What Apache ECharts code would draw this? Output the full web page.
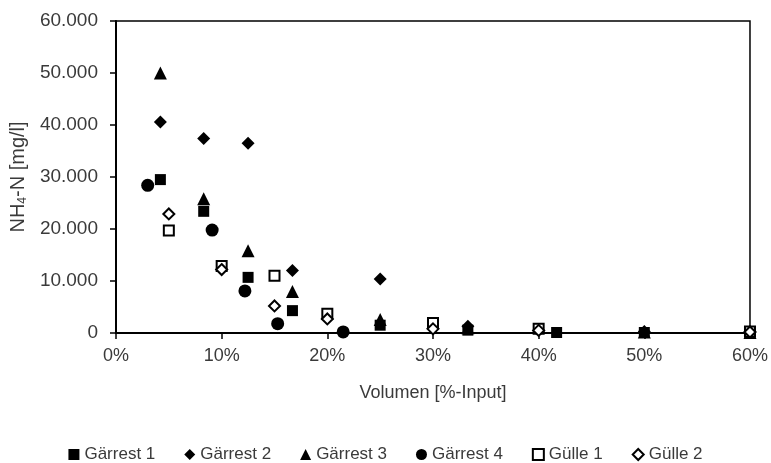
<!DOCTYPE html>
<html>
<head>
<meta charset="utf-8">
<script src="https://cdn.jsdelivr.net/npm/echarts@6/dist/echarts.min.js"></script>
<style>html,body{margin:0;padding:0;background:#fff}#c{width:771px;height:463px}</style>
</head>
<body>
<div id="c"></div>
<script>
const seriesNames = ['Gärrest 1', 'Gärrest 2', 'Gärrest 3', 'Gärrest 4', 'Gülle 1', 'Gülle 2'];
const g1X = [4.2, 8.3, 12.5, 16.7, 25.0, 33.3, 41.7, 50.0, 60.0];
const g1Y = [29500, 23400, 10700, 4300, 1500, 550, 100, 100, 100];
const g2X = [4.2, 8.3, 12.5, 16.7, 25.0, 33.3, 50.0, 60.0];
const g2Y = [40600, 37400, 36500, 12000, 10400, 1300, 300, 200];
const g3X = [4.2, 8.3, 12.5, 16.7, 25.0, 33.3, 50.0, 60.0];
const g3Y = [50000, 25800, 15800, 8000, 2600, 1000, 200, 100];
const g4X = [3.0, 9.1, 12.2, 15.3, 21.5];
const g4Y = [28400, 19800, 8100, 1800, 200];
const gu1X = [5, 10, 15, 20, 30, 40, 60];
const gu1Y = [19700, 12900, 11000, 3700, 1900, 800, 300];
const gu2X = [5, 10, 15, 20, 30, 40, 60];
const gu2Y = [22900, 12200, 5200, 2700, 800, 500, 200];
const xTicks = [0, 10, 20, 30, 40, 50, 60];
const yTicks = [0, 10000, 20000, 30000, 40000, 50000, 60000];

const FONT = '"Liberation Sans", Arial, sans-serif';
const TXT = '#3a3a3a';
const pair = (xs, ys) => xs.map((x, i) => [x, ys[i]]);
const styles = [
  {symbol: 'rect', size: 11, fill: '#000'},
  {symbol: 'diamond', size: 13, fill: '#000'},
  {symbol: 'triangle', size: 13, fill: '#000'},
  {symbol: 'circle', size: 13, fill: '#000'},
  {symbol: 'rect', size: 10, fill: '#fff'},
  {symbol: 'diamond', size: 11, fill: '#fff'}
];
const dataSets = [pair(g1X, g1Y), pair(g2X, g2Y), pair(g3X, g3Y), pair(g4X, g4Y), pair(gu1X, gu1Y), pair(gu2X, gu2Y)];

const chart = echarts.init(document.getElementById('c'), null, {renderer: 'canvas'});
chart.setOption({
  animation: false,
  backgroundColor: '#fff',
  textStyle: {fontFamily: FONT},
  grid: {left: 116, right: 20, top: 21, bottom: 130, show: true, borderColor: '#000', borderWidth: 1.5, backgroundColor: 'transparent'},
  legend: {
    top: 441, left: 'center', itemGap: 29, itemWidth: 11, itemHeight: 11,
    data: seriesNames,
    textStyle: {fontFamily: FONT, fontSize: 17, color: TXT}
  },
  xAxis: {
    type: 'value', min: xTicks[0], max: xTicks[xTicks.length - 1], interval: 10,
    name: 'Volumen [%-Input]', nameLocation: 'middle', nameGap: 51,
    nameTextStyle: {fontFamily: FONT, fontSize: 18, color: TXT},
    axisLine: {show: true, lineStyle: {color: '#000', width: 2}},
    axisTick: {show: true, length: 6, lineStyle: {color: '#000', width: 1.5}},
    splitLine: {show: false},
    axisLabel: {formatter: v => v + '%', fontFamily: FONT, fontSize: 18, color: TXT, margin: 14}
  },
  yAxis: {
    type: 'value', min: yTicks[0], max: yTicks[yTicks.length - 1], interval: 10000,
    name: '{a|NH}{s|4}{a|-N [mg/l]}', nameLocation: 'middle', nameGap: 76, nameRotate: 90,
    nameTextStyle: {
      fontFamily: FONT, fontSize: 20, color: TXT,
      rich: {
        a: {fontFamily: FONT, fontSize: 20, color: TXT},
        s: {fontFamily: FONT, fontSize: 12, color: TXT, verticalAlign: 'bottom', padding: [9, 0, 0, 0]}
      }
    },
    axisLine: {show: true, lineStyle: {color: '#000', width: 2}},
    axisTick: {show: true, length: 6, lineStyle: {color: '#000', width: 1.5}},
    splitLine: {show: false},
    axisLabel: {formatter: v => v === 0 ? '0' : (v / 1000) + '.000', fontFamily: FONT, fontSize: 19, color: TXT, margin: 18}
  },
  series: dataSets.map((d, i) => ({
    name: seriesNames[i],
    type: 'scatter',
    data: d,
    symbol: styles[i].symbol,
    symbolSize: styles[i].size,
    itemStyle: {color: styles[i].fill, borderColor: '#000', borderWidth: styles[i].fill === '#fff' ? 2 : 0, opacity: 1},
    emphasis: {disabled: true}
  }))
});
</script>
</body>
</html>
